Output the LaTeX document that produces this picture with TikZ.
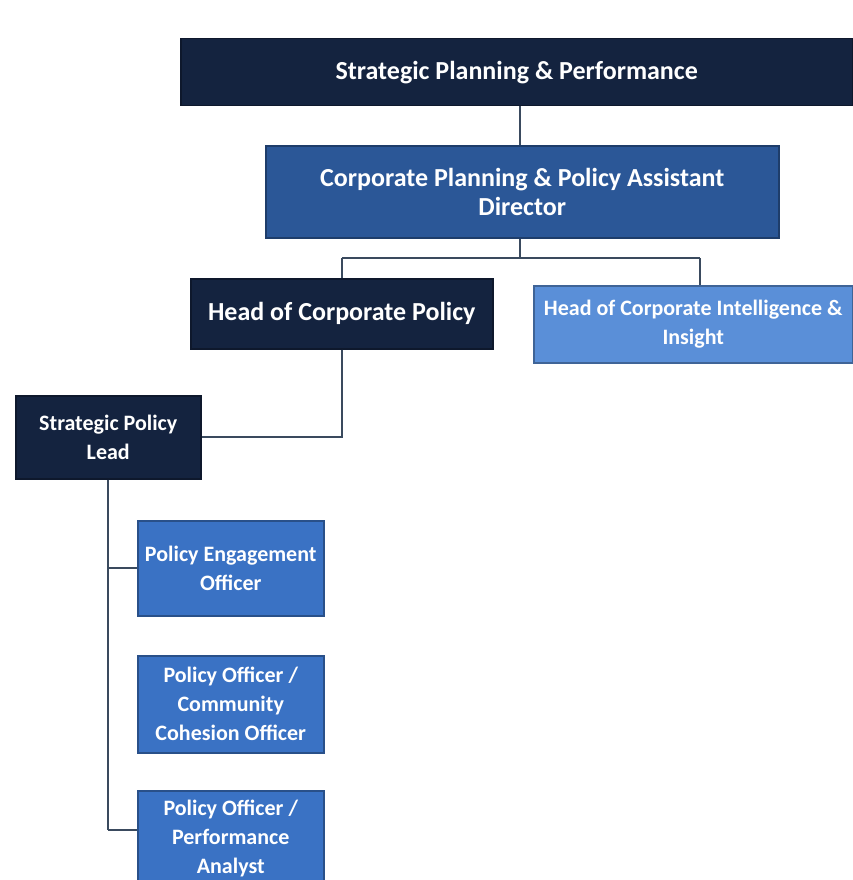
\documentclass[tikz,border=0pt]{standalone}
\usepackage{fontspec}
\setmainfont{Carlito}
\definecolor{navy}{HTML}{14233F}
\definecolor{midblue}{HTML}{2B5797}
\definecolor{lightblue}{HTML}{5A8FD8}
\definecolor{boxblue}{HTML}{3A72C4}
\definecolor{linecol}{HTML}{3A4A5E}
\begin{document}
\begin{tikzpicture}[x=1pt,y=-1pt,
  orgbox/.style={draw=#1!70!black, line width=1.5pt, fill=#1, text=white, font=\bfseries\fontsize{26}{29}\selectfont, align=center, inner sep=0pt, anchor=north west},
  small/.style={font=\bfseries\fontsize{22}{29}\selectfont},
  conn/.style={draw=linecol, line width=2pt}]
\useasboundingbox (0,0) rectangle (852,880);
\node[orgbox=navy, minimum width=672pt, minimum height=67pt] (spp) at (180,38) {Strategic Planning \& Performance};
\node[orgbox=midblue, minimum width=513pt, minimum height=92pt] (cpp) at (265,145) {Corporate Planning \& Policy Assistant\\Director};
\node[orgbox=navy, minimum width=302pt, minimum height=70pt] (hcp) at (190,278) {Head of Corporate Policy};
\node[orgbox=lightblue, small, minimum width=319pt, minimum height=77pt] (hci) at (533,285) {Head of Corporate Intelligence \&\\Insight};
\node[orgbox=navy, small, minimum width=185pt, minimum height=83pt] (spl) at (15,395) {Strategic Policy\\Lead};
\node[orgbox=boxblue, small, minimum width=186pt, minimum height=95pt] (peo) at (137,520) {Policy Engagement\\Officer};
\node[orgbox=boxblue, small, minimum width=186pt, minimum height=97pt] (pcc) at (137,655) {Policy Officer /\\Community\\Cohesion Officer};
\node[orgbox=boxblue, small, minimum width=186pt, minimum height=95pt] (ppa) at (137,790) {Policy Officer /\\Performance\\Analyst};
\coordinate (j1) at (520,258);
\coordinate (hcpend) at (342,437);
\draw[conn] (spp.south -| j1) -- (cpp.north -| j1);
\draw[conn] (cpp.south -| j1) -- (j1);
\draw[conn] (342,258) -- (700,258);
\draw[conn] (342,258) -- (hcp.north -| hcpend);
\draw[conn] (700,258) -- (hci.north -| 700,0);
\draw[conn] (hcp.south -| hcpend) -- (hcpend) -- (hcpend -| spl.east);
\draw[conn] (spl.south -| 108,0) -- (108,830);
\draw[conn] (108,568) -- (peo.west |- 0,568);
\draw[conn] (108,830) -- (ppa.west |- 0,830);
\end{tikzpicture}
\end{document}
